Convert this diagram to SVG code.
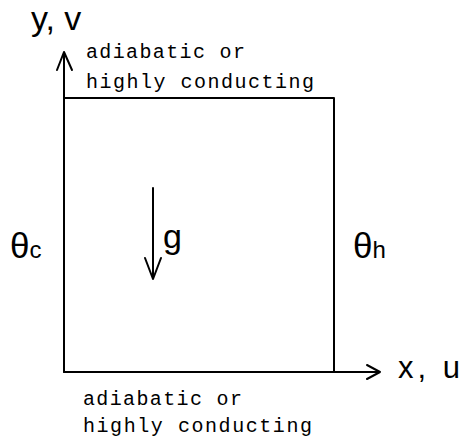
<svg xmlns="http://www.w3.org/2000/svg" width="461" height="446" viewBox="0 0 461 446">
<style>
.ln{fill:none;stroke:#000;stroke-width:2;stroke-linecap:round;stroke-linejoin:round}
.lbl{font-family:"Liberation Sans",Arial,sans-serif;fill:#000}
.ann{font-family:"Liberation Mono","DejaVu Sans Mono",monospace;font-size:20px;fill:#000}
</style>
<rect width="461" height="446" fill="#fff"/>
<g id="connectors">
<path class="ln" d="M64,372 L64,52 M57,70 L64,52 L72,70"/>
<path class="ln" d="M64,372 L380,372 M367,365 L380,372 L367,379"/>
<path class="ln" d="M153,188 L153,279 M145,258 L153,279 L161,258"/>
</g>
<g id="box">
<path class="ln" d="M64,98 L334,98 L334,372"/>
</g>
<g id="axis-y-label"><text class="lbl" x="31" y="30" font-size="34">y, v</text></g>
<g id="axis-x-label"><text class="lbl" x="398" y="378" font-size="31" textLength="62" lengthAdjust="spacing">x, u</text></g>
<g id="top-label">
<text class="ann" x="86" y="58" textLength="159" lengthAdjust="spacing">adiabatic or</text>
<text class="ann" x="86" y="88" textLength="228" lengthAdjust="spacing">highly conducting</text>
</g>
<g id="bottom-label">
<text class="ann" x="83" y="405" textLength="159" lengthAdjust="spacing">adiabatic or</text>
<text class="ann" x="83" y="432" textLength="229" lengthAdjust="spacing">highly conducting</text>
</g>
<g id="theta-c"><text class="lbl" x="10" y="258" font-size="35">θ<tspan font-size="24">c</tspan></text></g>
<g id="theta-h"><text class="lbl" x="353" y="258" font-size="35">θ<tspan font-size="24">h</tspan></text></g>
<g id="gravity"><text class="lbl" x="163" y="248" font-size="34">g</text></g>
</svg>
